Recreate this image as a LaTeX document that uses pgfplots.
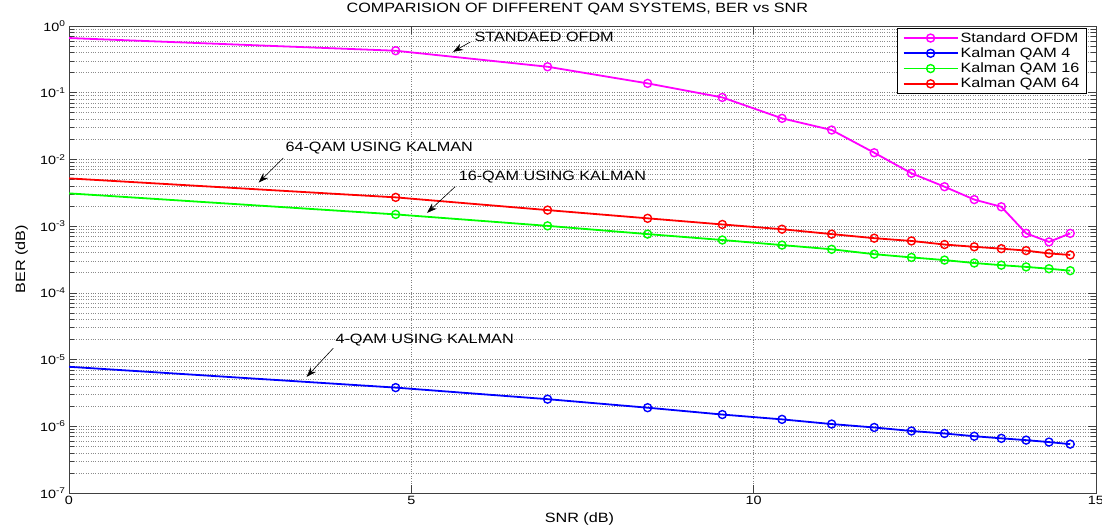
\documentclass[border=0pt]{standalone}
\usepackage{fontspec}
\setmainfont[FakeStretch=1.2]{Liberation Sans}
\usepackage{pgfplots}
\pgfplotsset{compat=1.18}
\usetikzlibrary{arrows.meta}
\definecolor{mmag}{rgb}{1,0,1}
\definecolor{mblue}{rgb}{0,0,1}
\definecolor{mgreen}{rgb}{0,1,0}
\definecolor{mred}{rgb}{1,0,0}
\newcommand{\lbl}{\fontsize{13.5bp}{16bp}\selectfont}
\newcommand{\tk}{\fontsize{12bp}{14bp}\selectfont}

\pgfplotstableread{
x y
0       0.66
4.7712  0.426
6.9897  0.245
8.4510  0.138
9.5424  0.085
10.4139 0.0413
11.1394 0.0276
11.7609 0.0126
12.3045 0.0062
12.7875 0.0039
13.2222 0.0025
13.6173 0.00195
13.9794 0.00078
14.3136 0.00058
14.6240 0.00078
}\ofdm

\pgfplotstableread{
x y
0       7.8e-6
4.7712  3.8e-6
6.9897  2.55e-6
8.4510  1.9e-6
9.5424  1.5e-6
10.4139 1.27e-6
11.1394 1.08e-6
11.7609 0.96e-6
12.3045 0.85e-6
12.7875 0.78e-6
13.2222 0.71e-6
13.6173 0.66e-6
13.9794 0.62e-6
14.3136 0.58e-6
14.6240 0.54e-6
}\qamfour

\pgfplotstableread{
x y
0       0.0031
4.7712  0.0015
6.9897  0.00101
8.4510  0.00076
9.5424  0.00062
10.4139 0.00052
11.1394 0.00045
11.7609 0.00038
12.3045 0.00034
12.7875 0.00031
13.2222 0.00028
13.6173 0.00026
13.9794 0.000245
14.3136 0.00023
14.6240 0.000215
}\qamsixteen

\pgfplotstableread{
x y
0       0.0052
4.7712  0.0027
6.9897  0.00174
8.4510  0.00131
9.5424  0.00106
10.4139 0.00090
11.1394 0.00076
11.7609 0.00066
12.3045 0.00060
12.7875 0.00053
13.2222 0.00049
13.6173 0.00046
13.9794 0.00043
14.3136 0.00039
14.6240 0.00037
}\qamsixtyfour

\begin{document}
\begin{tikzpicture}
\path[use as bounding box] (-69bp,-34bp) rectangle (1033bp,493bp);
\begin{axis}[
  at={(0,0)}, anchor=south west,
  scale only axis, width=1027bp, height=467bp,
  xmin=0, xmax=15, ymin=1e-7, ymax=1,
  ymode=log,
  axis line style={black!75, line width=0.8bp},
  xtick={0,5,10,15}, xticklabels={0,5,10,15},
  ytick={1e-7,1e-6,1e-5,1e-4,1e-3,1e-2,1e-1,1},
  yticklabels={10\textsuperscript{-7},10\textsuperscript{-6},10\textsuperscript{-5},10\textsuperscript{-4},10\textsuperscript{-3},10\textsuperscript{-2},10\textsuperscript{-1},10\textsuperscript{0}},
  minor ytick={2e-7,3e-7,4e-7,5e-7,6e-7,7e-7,8e-7,9e-7,
               2e-6,3e-6,4e-6,5e-6,6e-6,7e-6,8e-6,9e-6,
               2e-5,3e-5,4e-5,5e-5,6e-5,7e-5,8e-5,9e-5,
               2e-4,3e-4,4e-4,5e-4,6e-4,7e-4,8e-4,9e-4,
               2e-3,3e-3,4e-3,5e-3,6e-3,7e-3,8e-3,9e-3,
               2e-2,3e-2,4e-2,5e-2,6e-2,7e-2,8e-2,9e-2,
               0.2,0.3,0.4,0.5,0.6,0.7,0.8,0.9},
  minor xtick={},
  tick align=inside,
  major tick length=8bp, minor tick length=5bp,
  tick style={black!75, line width=0.6bp},
  xmajorgrids, ymajorgrids, yminorgrids,
  major grid style={dotted, black!50, line width=0.6bp},
  minor grid style={dotted, black!45, line width=0.6bp},
  ticklabel style={font=\tk},
  title={COMPARISION OF DIFFERENT QAM SYSTEMS, BER vs SNR},
  title style={font=\lbl, at={(axis description cs:0.495,1.017)}, anchor=base},
  xlabel={SNR (dB)},
  xlabel style={font=\lbl, at={(axis description cs:0.497,-0.064)}, anchor=base},
  ylabel={BER (dB)},
  ylabel style={font=\lbl, at={(axis description cs:-0.0428,0.501)}, anchor=base, rotate=0},
  legend style={at={(axis description cs:0.991,0.9957)}, anchor=north east,
    font=\lbl, draw=black, line width=0.8bp, inner xsep=5bp, inner ysep=2bp, row sep=0bp},
  legend cell align=left,
  legend image code/.code={\draw[mark indices={2}] plot coordinates {(0bp,0bp) (27bp,0bp) (54bp,0bp)};},
  every axis plot/.append style={line width=1.8bp, mark=o, mark size=4bp, mark options={line width=1.4bp}},
]
\addplot[mmag, mark indices={2,3,4,5,6,7,8,9,10,11,12,13,14,15}] table[x=x,y=y] {\ofdm};
\addlegendentry{Standard OFDM}
\addplot[mblue, mark indices={2,3,4,5,6,7,8,9,10,11,12,13,14,15}] table[x=x,y=y] {\qamfour};
\addlegendentry{Kalman QAM 4}
\addplot[mgreen, mark indices={2,3,4,5,6,7,8,9,10,11,12,13,14,15}] table[x=x,y=y] {\qamsixteen};
\addlegendentry{Kalman QAM 16}
\addplot[mred, mark indices={2,3,4,5,6,7,8,9,10,11,12,13,14,15}] table[x=x,y=y] {\qamsixtyfour};
\addlegendentry{Kalman QAM 64}

\draw[black, line width=0.6bp, -{Stealth[length=10bp,width=7bp]}] (axis cs:5.86,0.575) -- (axis cs:5.61,0.41);
\node[font=\lbl, anchor=west, inner sep=0pt] at (axis cs:5.92,0.684) {STANDAED OFDM};
\draw[black, line width=0.6bp, -{Stealth[length=10bp,width=7bp]}] (axis cs:3.13,0.0105) -- (axis cs:2.77,0.0045);
\node[font=\lbl, anchor=west, inner sep=0pt] at (axis cs:3.16,0.0149) {64-QAM USING KALMAN};
\draw[black, line width=0.6bp, -{Stealth[length=10bp,width=7bp]}] (axis cs:5.64,0.0039) -- (axis cs:5.23,0.00158);
\node[font=\lbl, anchor=west, inner sep=0pt] at (axis cs:5.69,0.0055) {16-QAM USING KALMAN};
\draw[black, line width=0.6bp, -{Stealth[length=10bp,width=7bp]}] (axis cs:3.86,1.48e-5) -- (axis cs:3.47,5.5e-6);
\node[font=\lbl, anchor=west, inner sep=0pt] at (axis cs:3.89,1.96e-5) {4-QAM USING KALMAN};
\end{axis}
\end{tikzpicture}
\end{document}
